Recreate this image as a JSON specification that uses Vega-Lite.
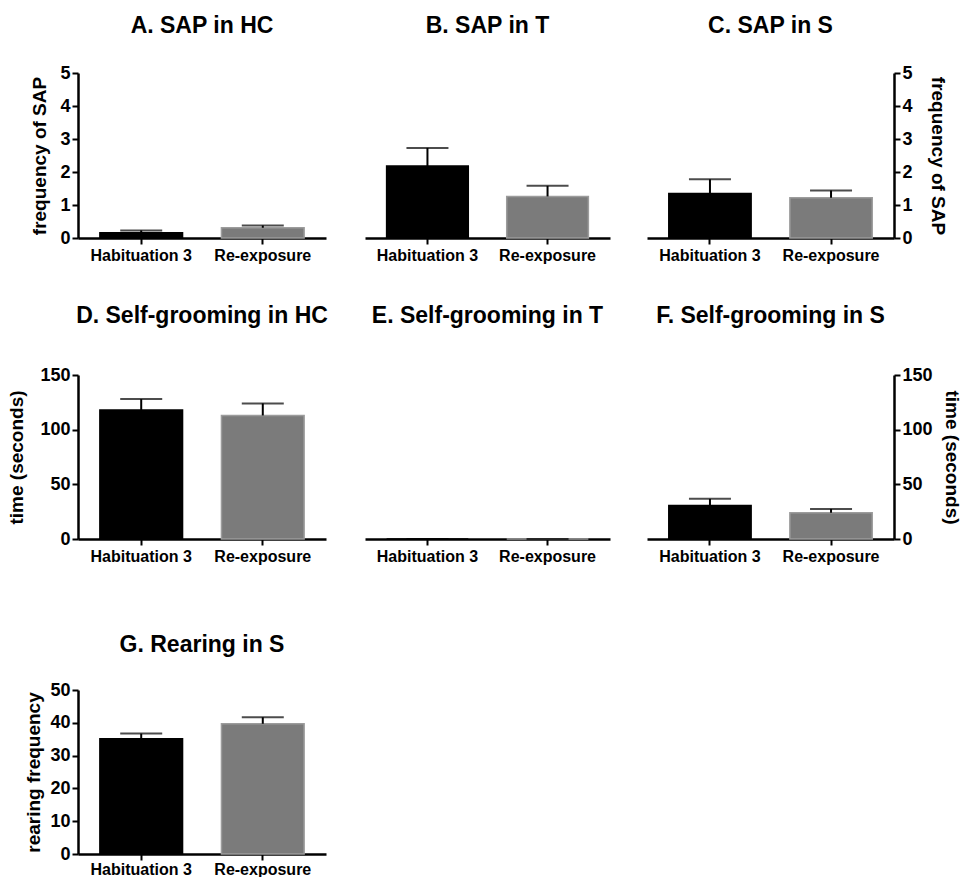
{
  "$schema": "https://vega.github.io/schema/vega-lite/v6.json",
  "padding": {"left": 7, "top": 15, "right": 0, "bottom": 0},
  "config": {
    "font": "Liberation Sans",
    "view": {"stroke": null},
    "axis": {"domainColor": "#000", "domainWidth": 2.5, "tickColor": "#000", "tickWidth": 2, "tickSize": 6, "labelColor": "#000", "labelFont": "Liberation Sans", "labelFontWeight": "bold", "titleColor": "#000", "titleFont": "Liberation Sans", "titleFontWeight": "bold", "grid": false},
    "axisX": {"labelFontSize": 16, "labelAngle": 0, "labelPadding": 3},
    "axisY": {"labelFontSize": 18, "titleFontSize": 19, "labelPadding": 2, "titlePadding": 6},
    "title": {"fontSize": 23, "fontWeight": "bold", "color": "#000", "anchor": "middle", "font": "Liberation Sans"},
    "tick": {"thickness": 2}
  },
  "datasets": {
    "d": [
      {"panel": "A", "group": "Habituation 3", "value": 0.16, "upper": 0.23},
      {"panel": "A", "group": "Re-exposure", "value": 0.31, "upper": 0.38},
      {"panel": "B", "group": "Habituation 3", "value": 2.18, "upper": 2.73},
      {"panel": "B", "group": "Re-exposure", "value": 1.26, "upper": 1.58},
      {"panel": "C", "group": "Habituation 3", "value": 1.35, "upper": 1.78},
      {"panel": "C", "group": "Re-exposure", "value": 1.22, "upper": 1.44},
      {"panel": "D", "group": "Habituation 3", "value": 118, "upper": 128},
      {"panel": "D", "group": "Re-exposure", "value": 113, "upper": 124},
      {"panel": "E", "group": "Habituation 3", "value": 0, "upper": 0},
      {"panel": "E", "group": "Re-exposure", "value": 0, "upper": 0},
      {"panel": "F", "group": "Habituation 3", "value": 30.6, "upper": 36.7},
      {"panel": "F", "group": "Re-exposure", "value": 24, "upper": 27.5},
      {"panel": "G", "group": "Habituation 3", "value": 35.1, "upper": 36.7},
      {"panel": "G", "group": "Re-exposure", "value": 39.7, "upper": 41.7}
    ]
  },
  "data": {"name": "d"},
  "columns": 3,
  "spacing": {"row": 42, "column": 37},
  "concat": [
    {
      "title": {"text": "A. SAP in HC", "offset": 26},
      "width": 248, "height": 165,
      "transform": [{"filter": "datum.panel === 'A'"}],
      "encoding": {
        "x": {"field": "group", "type": "nominal", "sort": ["Habituation 3", "Re-exposure"], "scale": {"paddingInner": 0.32, "paddingOuter": 0.18}, "axis": {"title": null}},
        "y": {"field": "value", "type": "quantitative", "scale": {"domain": [0, 5], "nice": false}, "axis": {"title": "frequency of SAP", "titlePadding": 10, "values": [0, 1, 2, 3, 4, 5]}}
      },
      "layer": [
        {"mark": {"type": "bar", "strokeWidth": 1.5}, "encoding": {"color": {"field": "group", "type": "nominal", "scale": {"range": ["#000000", "#7b7b7b"]}, "legend": null}, "stroke": {"field": "group", "type": "nominal", "scale": {"range": ["#000000", "#9c9c9c"]}, "legend": null}}},
        {"mark": {"type": "rule", "strokeWidth": 2, "color": "#000"}, "encoding": {"y2": {"field": "upper"}}},
        {"mark": {"type": "tick", "size": 42, "color": "#000"}, "encoding": {"y": {"field": "upper", "type": "quantitative", "scale": {"domain": [0, 5], "nice": false}, "axis": {"title": "frequency of SAP", "titlePadding": 10, "values": [0, 1, 2, 3, 4, 5]}}}}
      ]
    },
    {
      "title": {"text": "B. SAP in T", "offset": 35},
      "width": 245, "height": 165,
      "transform": [{"filter": "datum.panel === 'B'"}],
      "encoding": {
        "x": {"field": "group", "type": "nominal", "sort": ["Habituation 3", "Re-exposure"], "scale": {"paddingInner": 0.32, "paddingOuter": 0.18}, "axis": {"title": null}},
        "y": {"field": "value", "type": "quantitative", "scale": {"domain": [0, 5], "nice": false}, "axis": null}
      },
      "layer": [
        {"mark": {"type": "bar", "strokeWidth": 1.5}, "encoding": {"color": {"field": "group", "type": "nominal", "scale": {"range": ["#000000", "#7b7b7b"]}, "legend": null}, "stroke": {"field": "group", "type": "nominal", "scale": {"range": ["#000000", "#9c9c9c"]}, "legend": null}}},
        {"mark": {"type": "rule", "strokeWidth": 2, "color": "#000"}, "encoding": {"y2": {"field": "upper"}}},
        {"mark": {"type": "tick", "size": 42, "color": "#000"}, "encoding": {"y": {"field": "upper", "type": "quantitative", "scale": {"domain": [0, 5], "nice": false}, "axis": null}}}
      ]
    },
    {
      "title": {"text": "C. SAP in S", "offset": 26},
      "width": 247, "height": 165,
      "transform": [{"filter": "datum.panel === 'C'"}],
      "encoding": {
        "x": {"field": "group", "type": "nominal", "sort": ["Habituation 3", "Re-exposure"], "scale": {"paddingInner": 0.32, "paddingOuter": 0.18}, "axis": {"title": null}},
        "y": {"field": "value", "type": "quantitative", "scale": {"domain": [0, 5], "nice": false}, "axis": {"title": "frequency of SAP", "titlePadding": 15, "orient": "right", "values": [0, 1, 2, 3, 4, 5]}}
      },
      "layer": [
        {"mark": {"type": "bar", "strokeWidth": 1.5}, "encoding": {"color": {"field": "group", "type": "nominal", "scale": {"range": ["#000000", "#7b7b7b"]}, "legend": null}, "stroke": {"field": "group", "type": "nominal", "scale": {"range": ["#000000", "#9c9c9c"]}, "legend": null}}},
        {"mark": {"type": "rule", "strokeWidth": 2, "color": "#000"}, "encoding": {"y2": {"field": "upper"}}},
        {"mark": {"type": "tick", "size": 42, "color": "#000"}, "encoding": {"y": {"field": "upper", "type": "quantitative", "scale": {"domain": [0, 5], "nice": false}, "axis": {"title": "frequency of SAP", "titlePadding": 15, "orient": "right", "values": [0, 1, 2, 3, 4, 5]}}}}
      ]
    },
    {
      "title": {"text": "D. Self-grooming in HC", "offset": 38},
      "width": 248, "height": 164,
      "transform": [{"filter": "datum.panel === 'D'"}],
      "encoding": {
        "x": {"field": "group", "type": "nominal", "sort": ["Habituation 3", "Re-exposure"], "scale": {"paddingInner": 0.32, "paddingOuter": 0.18}, "axis": {"title": " ", "titleFontSize": 11, "titlePadding": 17}},
        "y": {"field": "value", "type": "quantitative", "scale": {"domain": [0, 150], "nice": false}, "axis": {"title": "time (seconds)", "titlePadding": 13, "values": [0, 50, 100, 150]}}
      },
      "layer": [
        {"mark": {"type": "bar", "strokeWidth": 1.5}, "encoding": {"color": {"field": "group", "type": "nominal", "scale": {"range": ["#000000", "#7b7b7b"]}, "legend": null}, "stroke": {"field": "group", "type": "nominal", "scale": {"range": ["#000000", "#9c9c9c"]}, "legend": null}}},
        {"mark": {"type": "rule", "strokeWidth": 2, "color": "#000"}, "encoding": {"y2": {"field": "upper"}}},
        {"mark": {"type": "tick", "size": 42, "color": "#000"}, "encoding": {"y": {"field": "upper", "type": "quantitative", "scale": {"domain": [0, 150], "nice": false}, "axis": {"title": "time (seconds)", "titlePadding": 13, "values": [0, 50, 100, 150]}}}}
      ]
    },
    {
      "title": {"text": "E. Self-grooming in T", "offset": 47},
      "width": 245, "height": 164,
      "transform": [{"filter": "datum.panel === 'E'"}],
      "encoding": {
        "x": {"field": "group", "type": "nominal", "sort": ["Habituation 3", "Re-exposure"], "scale": {"paddingInner": 0.32, "paddingOuter": 0.18}, "axis": {"title": " ", "titleFontSize": 11, "titlePadding": 17}},
        "y": {"field": "value", "type": "quantitative", "scale": {"domain": [0, 150], "nice": false}, "axis": null}
      },
      "layer": [
        {"mark": {"type": "bar", "strokeWidth": 1.5}, "encoding": {"color": {"field": "group", "type": "nominal", "scale": {"range": ["#000000", "#7b7b7b"]}, "legend": null}, "stroke": {"field": "group", "type": "nominal", "scale": {"range": ["#000000", "#9c9c9c"]}, "legend": null}}},
        {"mark": {"type": "rule", "strokeWidth": 2, "color": "#000"}, "encoding": {"y2": {"field": "upper"}}},
        {"mark": {"type": "tick", "size": 42, "color": "#000"}, "encoding": {"y": {"field": "upper", "type": "quantitative", "scale": {"domain": [0, 150], "nice": false}, "axis": null}}}
      ]
    },
    {
      "title": {"text": "F. Self-grooming in S", "offset": 38},
      "width": 247, "height": 164,
      "transform": [{"filter": "datum.panel === 'F'"}],
      "encoding": {
        "x": {"field": "group", "type": "nominal", "sort": ["Habituation 3", "Re-exposure"], "scale": {"paddingInner": 0.32, "paddingOuter": 0.18}, "axis": {"title": " ", "titleFontSize": 11, "titlePadding": 17}},
        "y": {"field": "value", "type": "quantitative", "scale": {"domain": [0, 150], "nice": false}, "axis": {"title": "time (seconds)", "titlePadding": 9, "orient": "right", "values": [0, 50, 100, 150]}}
      },
      "layer": [
        {"mark": {"type": "bar", "strokeWidth": 1.5}, "encoding": {"color": {"field": "group", "type": "nominal", "scale": {"range": ["#000000", "#7b7b7b"]}, "legend": null}, "stroke": {"field": "group", "type": "nominal", "scale": {"range": ["#000000", "#9c9c9c"]}, "legend": null}}},
        {"mark": {"type": "rule", "strokeWidth": 2, "color": "#000"}, "encoding": {"y2": {"field": "upper"}}},
        {"mark": {"type": "tick", "size": 42, "color": "#000"}, "encoding": {"y": {"field": "upper", "type": "quantitative", "scale": {"domain": [0, 150], "nice": false}, "axis": {"title": "time (seconds)", "titlePadding": 9, "orient": "right", "values": [0, 50, 100, 150]}}}}
      ]
    },
    {
      "title": {"text": "G. Rearing in S", "offset": 24},
      "width": 248, "height": 164,
      "transform": [{"filter": "datum.panel === 'G'"}],
      "encoding": {
        "x": {"field": "group", "type": "nominal", "sort": ["Habituation 3", "Re-exposure"], "scale": {"paddingInner": 0.32, "paddingOuter": 0.18}, "axis": {"title": null, "labelPadding": 1}},
        "y": {"field": "value", "type": "quantitative", "scale": {"domain": [0, 50], "nice": false}, "axis": {"title": "rearing frequency", "titlePadding": 6, "values": [0, 10, 20, 30, 40, 50]}}
      },
      "layer": [
        {"mark": {"type": "bar", "strokeWidth": 1.5}, "encoding": {"color": {"field": "group", "type": "nominal", "scale": {"range": ["#000000", "#7b7b7b"]}, "legend": null}, "stroke": {"field": "group", "type": "nominal", "scale": {"range": ["#000000", "#9c9c9c"]}, "legend": null}}},
        {"mark": {"type": "rule", "strokeWidth": 2, "color": "#000"}, "encoding": {"y2": {"field": "upper"}}},
        {"mark": {"type": "tick", "size": 42, "color": "#000"}, "encoding": {"y": {"field": "upper", "type": "quantitative", "scale": {"domain": [0, 50], "nice": false}, "axis": {"title": "rearing frequency", "titlePadding": 6, "values": [0, 10, 20, 30, 40, 50]}}}}
      ]
    }
  ]
}
